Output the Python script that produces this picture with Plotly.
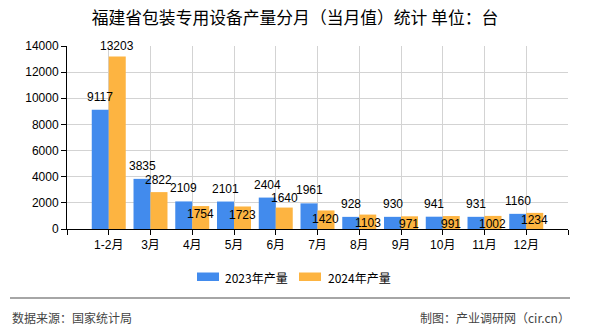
import plotly.graph_objects as go

categories = ["1-2月", "3月", "4月", "5月", "6月", "7月", "8月", "9月", "10月", "11月", "12月"]
values_2023 = [9117, 3835, 2109, 2101, 2404, 1961, 928, 930, 941, 931, 1160]
values_2024 = [13203, 2822, 1754, 1723, 1640, 1420, 1103, 971, 991, 1002, 1234]
series_names = ["2023年产量", "2024年产量"]
y_ticks = [0, 2000, 4000, 6000, 8000, 10000, 12000, 14000]
y_tick_labels = ["0", "2000", "4000", "6000", "8000", "10000", "12000", "14000"]
title_text = "福建省包装专用设备产量分月（当月值）统计 单位：台"
source_text = "数据来源：国家统计局"
credit_text = "制图：产业调研网（cir.cn）"

# label placement style for 2024 labels (pixel offset of label centre from bar top; negative = above)
label_offsets_2024 = [-10, -12, 8, 8.5, -10, 8.5, 8, 8, 8, 8, 7]

W, H = 590, 330
L, R, T, B = 67, 22, 46, 101
PW, PH = W - L - R, H - T - B

def px_x(px):
    return (px - L) / PW

def px_y(py):
    return (T + PH - py) / PH

BLUE = "#428bed"
ORANGE = "#fdb441"
NUM_FONT = "Liberation Sans, Noto Sans CJK SC"
CJK_FONT = "Noto Sans CJK SC, Liberation Sans"

xpos = list(range(1, len(categories) + 1))

fig = go.Figure()
fig.add_trace(go.Bar(x=xpos, y=values_2023, name=series_names[0], marker_color=BLUE,
                     marker_line_width=0, hoverinfo="y"))
fig.add_trace(go.Bar(x=xpos, y=values_2024, name=series_names[1], marker_color=ORANGE,
                     marker_line_width=0, hoverinfo="y"))

slot_px = PW / (len(categories) + 1)
bargap = 0.186
half_bar_px = slot_px * (1 - bargap) / 4

annotations = []
for i, v in enumerate(values_2023):
    annotations.append(dict(x=xpos[i], y=v, xref="x", yref="y", text=str(v), showarrow=False,
                            xshift=-half_bar_px, yshift=13, yanchor="middle",
                            font=dict(family=NUM_FONT, size=12, color="#000")))
for i, v in enumerate(values_2024):
    annotations.append(dict(x=xpos[i], y=v, xref="x", yref="y", text=str(v), showarrow=False,
                            xshift=half_bar_px, yshift=-label_offsets_2024[i], yanchor="middle",
                            font=dict(family=NUM_FONT, size=12, color="#000")))

# legend (custom drawn)
shapes = []
legend_items = [(197, 223, BLUE, series_names[0]), (299, 326, ORANGE, series_names[1])]
for x0, tx, col, name in legend_items:
    shapes.append(dict(type="rect", xref="paper", yref="paper",
                       x0=px_x(x0), x1=px_x(x0 + 22), y0=px_y(281), y1=px_y(272.5),
                       fillcolor=col, line_width=0))
    annotations.append(dict(x=px_x(tx), y=px_y(277), xref="paper", yref="paper", text=name,
                            showarrow=False, xanchor="left", yanchor="middle",
                            font=dict(family=CJK_FONT, size=12, color="#000")))

# footer
shapes.append(dict(type="line", xref="paper", yref="paper", x0=px_x(10), x1=px_x(570),
                   y0=px_y(298), y1=px_y(298), line=dict(color="#888888", width=1.5)))
annotations.append(dict(x=px_x(10), y=px_y(317), xref="paper", yref="paper", text=source_text,
                        showarrow=False, xanchor="left", yanchor="middle",
                        font=dict(family=CJK_FONT, size=12, color="#444")))
annotations.append(dict(x=px_x(572), y=px_y(317), xref="paper", yref="paper", text=credit_text,
                        showarrow=False, xanchor="right", yanchor="middle",
                        font=dict(family=CJK_FONT, size=12, color="#444")))

fig.update_layout(
    width=W, height=H,
    margin=dict(l=L, r=R, t=T, b=B, pad=0),
    paper_bgcolor="white", plot_bgcolor="white",
    barmode="group", bargap=bargap, bargroupgap=0,
    showlegend=False,
    title=dict(text=title_text, x=0.5, xref="container", xanchor="center",
               y=1 - 18 / H, yref="container", yanchor="middle",
               font=dict(family=CJK_FONT, size=16.8, color="#000")),
    annotations=annotations,
    shapes=shapes,
    xaxis=dict(
        range=[0, len(categories) + 1],
        tickmode="array",
        tickvals=[0] + xpos + [len(categories) + 1],
        ticktext=[""] + categories + [""],
        showgrid=True, gridcolor="#d3d3d3", gridwidth=1,
        showline=True, linecolor="#000", linewidth=1,
        ticks="outside", ticklen=5, tickcolor="#000",
        zeroline=False,
        tickfont=dict(family=NUM_FONT, size=12, color="#000"),
        fixedrange=True,
    ),
    yaxis=dict(
        range=[0, 14000],
        tickmode="array", tickvals=y_ticks, ticktext=y_tick_labels,
        showgrid=True, gridcolor="#d3d3d3", gridwidth=1,
        showline=True, linecolor="#000", linewidth=1,
        ticks="outside", ticklen=5, tickcolor="#000",
        zeroline=False,
        tickfont=dict(family=NUM_FONT, size=12, color="#000"),
        fixedrange=True,
    ),
)

fig.write_html("out.html", config={"displayModeBar": False})
